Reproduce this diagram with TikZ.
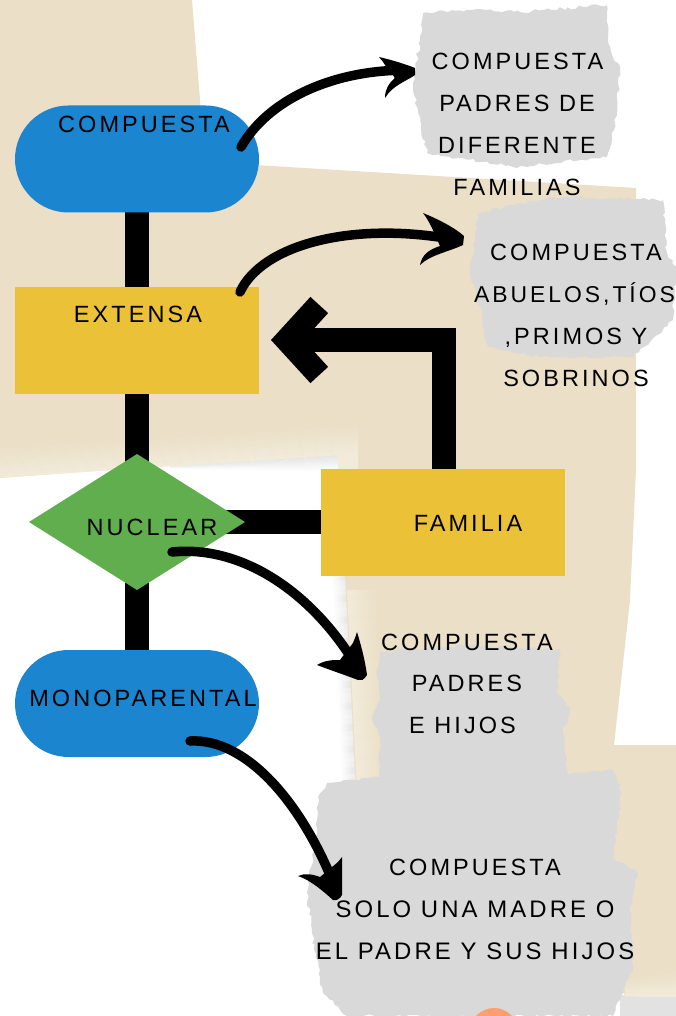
\documentclass[tikz,border=0pt]{standalone}
\usepackage{fontspec}
\usetikzlibrary{shapes.geometric,shapes.misc,arrows.meta,decorations.pathmorphing}
\newfontfamily\labfont[LetterSpace=13]{Liberation Sans}
\definecolor{beige}{HTML}{EBE0C7}
\definecolor{beigelight}{HTML}{F2EBDA}
\definecolor{blob}{HTML}{D9D9D9}
\definecolor{pillblue}{HTML}{1B85D0}
\definecolor{boxyellow}{HTML}{EBC137}
\definecolor{diagreen}{HTML}{60AE4E}
\definecolor{shadowgray}{HTML}{E2E2E2}
\definecolor{peach}{HTML}{FF9E6E}
\pgfdeclarelayer{paper}
\pgfdeclarelayer{links}
\pgfsetlayers{paper,links,main}
\tikzset{
  lab/.style={font=\labfont\fontsize{23.5}{26}\selectfont,anchor=base,inner sep=0pt,text=black},
  labwide/.style={lab,font=\labfont\fontsize{23.9}{26}\selectfont},
  labtight/.style={lab,font=\labfont\fontsize{22.9}{26}\selectfont},
  pill/.style={rounded rectangle,fill=pillblue,minimum width=244pt,minimum height=107pt,inner sep=0pt,outer sep=0pt},
  ybox/.style={rectangle,fill=boxyellow,minimum width=244pt,minimum height=107pt,inner sep=0pt,outer sep=0pt},
  dia/.style={diamond,fill=diagreen,minimum width=216pt,minimum height=136pt,inner sep=0pt,outer sep=0pt,aspect=1.59},
  link/.style={line width=24pt,draw=black},
  brush/.style={line width=9.5pt,draw=black,line cap=round,-{Stealth[length=14pt,width=16pt,inset=4pt]}},
  brushhead/.style={fill=black},
  torn/.style={fill=blob,decoration={random steps,segment length=4pt,amplitude=1.6pt},decorate}
}
\pgfmathsetseed{7}
\begin{document}
\begin{tikzpicture}[x=1pt,y=-1pt]
\useasboundingbox (0,0) rectangle (676,1016);
\begin{pgfonlayer}{paper}
\fill[white] (0,0) rectangle (676,1016);
% soft shadows below the paper
\foreach \i [evaluate=\i as \p using {100-\i*6.5}] in {0,...,14} {
  \fill[shadowgray!\p!white] ({170},{465+0.25*\i}) -- ({338},{453+1.2*\i}) -- ({338},{454.5+1.2*\i}) -- ({170},{465.5+0.25*\i}) -- cycle;
  \fill[shadowgray!\p!white] ({347-\i},575) -- ({347.8-\i},575) -- ({357.8-\i},790) -- ({357-\i},790) -- cycle;
}
\fill[shadowgray] (620,995) rectangle (676,1016);
% paper
\fill[beige] (0,0) -- (192,0) -- (205,162) -- (636,188) -- (636,470) -- (630,600) -- (614,745)
  -- (676,745) -- (676,996) -- (625,996) -- (560,800) -- (356,790) -- (345,575) -- (338,453) -- (0,478) -- cycle;
% pale worn edges of the paper
\foreach \i [evaluate=\i as \p using {\i*7}] in {0,...,14} {
  \fill[beigelight!\p!beige] (0,{446+2.1*\i}) -- (338,{425+2*\i}) -- (338,{427.2+2*\i}) -- (0,{448.2+2.1*\i}) -- cycle;
  \fill[beigelight!\p!beige] ({375-2*\i},590) -- ({377.2-2*\i},590) -- ({387.2-2*\i},790) -- ({385-2*\i},790) -- cycle;
  \fill[beigelight!\p!beige] (625,{978+1.2*\i}) -- (676,{970+1.8*\i}) -- (676,{972+1.8*\i}) -- (625,{979.5+1.2*\i}) -- cycle;
  \fill[beigelight!\p!beige] (338,{425+2*\i}) -- (358,{424+2*\i}) -- (358,{426.2+2*\i}) -- (338,{427.2+2*\i}) -- cycle;
}
\fill[beigelight] (338,453) rectangle (358,470);
% torn paper
\path[torn] (423,13) -- (470,10) -- (520,12) -- (607,5) -- (609,45) -- (620,70) -- (617,113) -- (607,157)
  -- (513,167) -- (427,153) -- (417,107) -- (413,83) -- (420,40) -- cycle;
\path[torn] (478,213) -- (553,197) -- (663,200) -- (667,253) -- (676,267) -- (673,320) -- (633,357)
  -- (540,357) -- (487,347) -- (480,307) -- (470,273) -- (475,233) -- cycle;
\path[torn] (380,652) -- (470,645) -- (560,650) -- (557,693) -- (570,707) -- (563,733) -- (567,773)
  -- (613,770) -- (622,793) -- (613,857) -- (638,873) -- (630,907) -- (633,967) -- (620,1000) -- (613,1016)
  -- (347,1016) -- (323,993) -- (320,977) -- (312,933) -- (307,893) -- (317,833) -- (318,797) -- (327,783)
  -- (380,777) -- (380,740) -- (372,717) -- (380,700) -- (377,677) -- cycle;
\fill[peach] (494,1032) circle (24);
\end{pgfonlayer}
% nodes
\node[pill] (comp) at (137,159) {};
\node[ybox] (ext) at (137,340.5) {};
\node[dia] (nuc) at (137,522) {};
\node[ybox] (fam) at (443,522) {};
\node[pill] (mono) at (137,703.5) {};
\coordinate (fantip) at (271,340);
\coordinate (c1s) at (241,147);
\coordinate (c1e) at (408,70);
\coordinate (c2s) at (240,292);
\coordinate (c2e) at (457,240);
\coordinate (c3s) at (172,552);
\coordinate (c3e) at (360,672);
\coordinate (c4s) at (190,741);
\coordinate (c4e) at (337,892);
% links run behind the shapes
\begin{pgfonlayer}{links}
\draw[link] (comp.center) -- (ext.center);
\draw[link] (ext.center) -- (nuc.center);
\draw[link] (nuc.center) -- (mono.center);
\draw[link] (nuc.center) -- (fam.center);
\end{pgfonlayer}
\draw[link,-{Straight Barb[length=32pt,width=70pt,line width=24pt]}] ([xshift=1pt]fam.north) |- (fantip);
% brush arrows
\draw[brush] (c1s) .. controls (268,100) and (330,72) .. (c1e);
\draw[brush] (c2s) .. controls (262,245) and (350,222) .. (c2e);
\draw[brush] (c3s) .. controls (240,545) and (310,590) .. (c3e);
\draw[brush] (c4s) .. controls (245,738) and (300,800) .. (c4e);
% swept brush heads
\fill[brushhead] (379,57) .. controls (392,60) and (405,64) .. (415,68) -- (415,75) .. controls (405,82) and (393,85) .. (385,98)
  .. controls (385,90) and (388,84) .. (395,78) -- (385,65) .. controls (384,62) and (381,60) .. cycle;
\fill[brushhead] (423,213) .. controls (440,220) and (455,228) .. (464,236) -- (463,245) .. controls (448,252) and (430,255) .. (420,265)
  .. controls (422,255) and (428,250) .. (440,246) -- (432,228) .. controls (430,224) and (427,218) .. cycle;
\fill[brushhead] (357,632) .. controls (361,645) and (365,660) .. (367,675) .. controls (364,680) and (361,681) .. (358,680)
  .. controls (345,675) and (330,670) .. (317,665) .. controls (325,660) and (333,660) .. (340,660)
  -- (353,643) .. controls (354,640) and (356,636) .. cycle;
\fill[brushhead] (342,857) -- (342,895) .. controls (340,899) and (336,901) .. (333,900)
  .. controls (322,890) and (310,880) .. (298,876) .. controls (305,873) and (312,874) .. (320,877)
  -- (338,862) -- cycle;
% labels
\node[lab] (t1) at (144,133) {COMPUESTA};
\node[lab] (t2) at (138,322) {EXTENSA};
\node[lab] (t3) at (152,535) {NUCLEAR};
\node[lab] (t4) at (468,531) {FAMILIA};
\node[lab] (t5) at (143,706) {MONOPARENTAL};
\node[lab] (a1) at (517.5,70) {COMPUESTA};
\node[lab] (a2) at (517,112) {PADRES DE};
\node[lab] (a3) at (517,154) {DIFERENTE};
\node[lab] (a4) at (517,196) {FAMILIAS};
\node[lab] (b1) at (576,260) {COMPUESTA};
\node[labtight] (b2) at (574.5,302) {ABUELOS,TÍOS};
\node[lab] (b3) at (576,344) {,PRIMOS Y};
\node[lab] (b4) at (576,386) {SOBRINOS};
\node[lab] (c1) at (467,650) {COMPUESTA};
\node[lab] (c2) at (467,691) {PADRES};
\node[lab] (c3) at (462.5,733) {E HIJOS};
\node[lab] (d1) at (475,875) {COMPUESTA};
\node[labwide] (d2) at (475,917) {SOLO UNA MADRE O};
\node[labwide] (d3) at (475,959) {EL PADRE Y SUS HIJOS};
\end{tikzpicture}
\end{document}
